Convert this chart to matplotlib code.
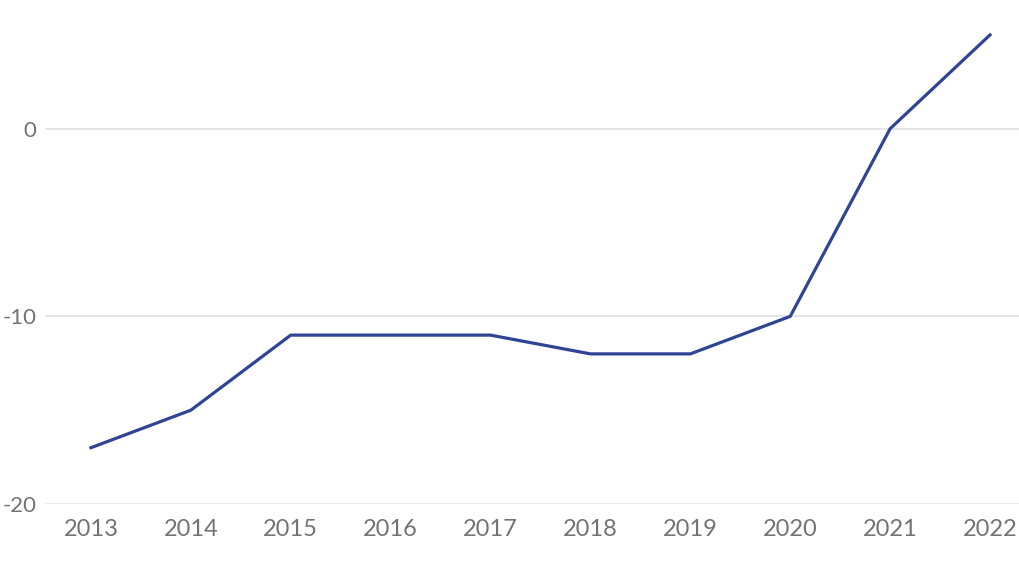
import matplotlib
matplotlib.use("Agg")
import matplotlib.pyplot as plt

years = [2013, 2014, 2015, 2016, 2017, 2018, 2019, 2020, 2021, 2022]
values = [-17, -15, -11, -11, -11, -12, -12, -10, 0, 5]
yticks = [-20, -10, 0]

plt.rcParams['font.family'] = ['Lato', 'DejaVu Sans']

fig = plt.figure(figsize=(10.2, 5.7), dpi=100)
# plot area runs off the top and right edge like the cropped original
ax = fig.add_axes([45 / 1020, 66 / 570, 975 / 1020, 504 / 570])

ax.plot(years, values, color='#2f4494', linewidth=2.3, solid_joinstyle='round')

ax.set_xlim(2012.54, 2022.30)
ax.set_ylim(-20, 6.86)
ax.set_xticks(years)
ax.set_xticklabels([str(y) for y in years])
ax.set_yticks(yticks)
ax.set_yticklabels([str(v) for v in yticks])

ax.grid(axis='y', color='#e6e6e6', linewidth=1.4)
ax.set_axisbelow(True)
for s in ax.spines.values():
    s.set_visible(False)
ax.tick_params(axis='both', length=0, colors='#737373')
ax.tick_params(axis='x', pad=11, labelsize=17)
ax.tick_params(axis='y', pad=6, labelsize=16)

fig.savefig('out.png', dpi=100)
